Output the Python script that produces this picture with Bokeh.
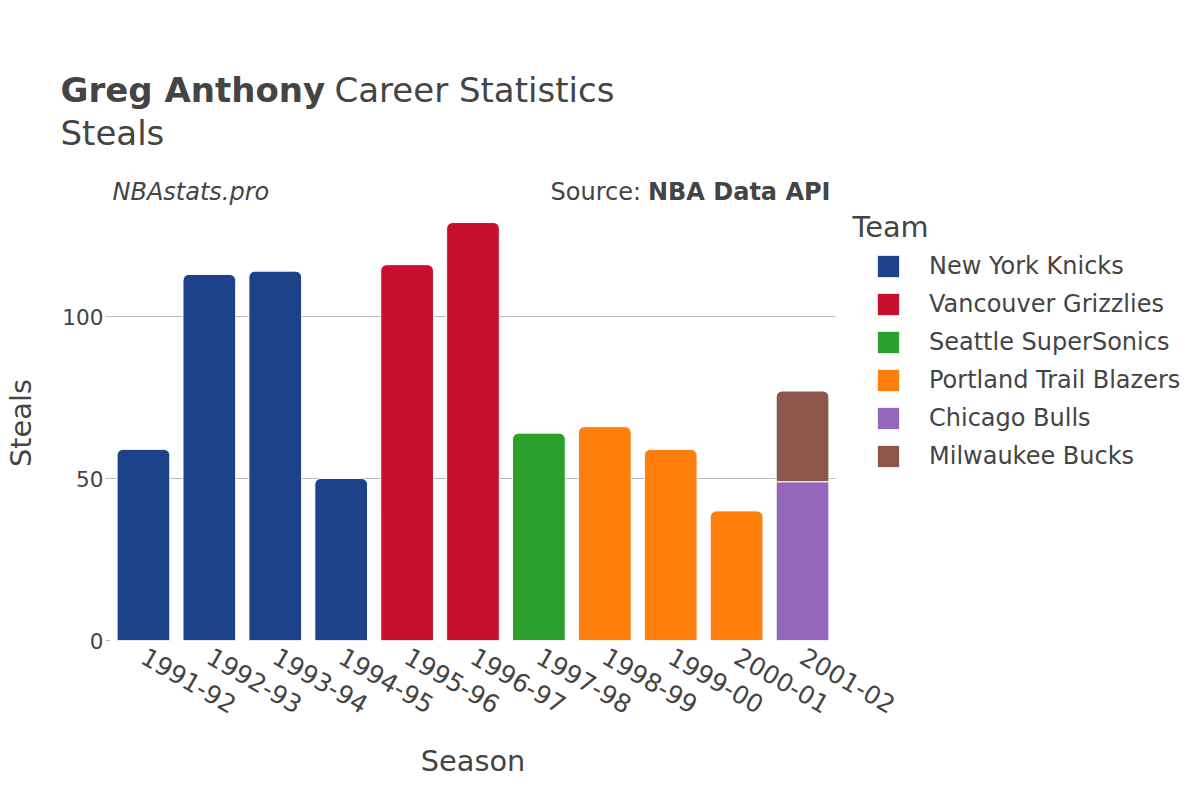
import math
from bokeh.plotting import figure
from bokeh.models import (Range1d, FixedTicker, Label, Legend, LegendItem, Grid,
                          ColumnDataSource)
from bokeh.layouts import column
from bokeh.embed import file_html
from bokeh.resources import INLINE

# ---- data ----
seasons = ["1991-92", "1992-93", "1993-94", "1994-95", "1995-96", "1996-97",
           "1997-98", "1998-99", "1999-00", "2000-01", "2001-02"]
bar_season = ["1991-92", "1992-93", "1993-94", "1994-95", "1995-96", "1996-97",
              "1997-98", "1998-99", "1999-00", "2000-01", "2001-02", "2001-02"]
bar_team = ["New York Knicks", "New York Knicks", "New York Knicks", "New York Knicks",
            "Vancouver Grizzlies", "Vancouver Grizzlies", "Seattle SuperSonics",
            "Portland Trail Blazers", "Portland Trail Blazers", "Portland Trail Blazers",
            "Chicago Bulls", "Milwaukee Bucks"]
bar_steals = [59, 113, 114, 50, 116, 129, 64, 66, 59, 40, 49, 28]
teams = ["New York Knicks", "Vancouver Grizzlies", "Seattle SuperSonics",
         "Portland Trail Blazers", "Chicago Bulls", "Milwaukee Bucks"]
team_colors = ["#1d428a", "#c8102e", "#2ca02c", "#ff7f0e", "#9467bd", "#8c564b"]
y_ticks = [0, 50, 100]
y_max = 135.8

TXT = "#444444"
FONT = "DejaVu Sans"
W = 1184
HEAD_H = 205          # header strip (titles, credits)
FOOT_H = 44           # footer strip (x axis title)
MAIN_H = 784 - HEAD_H - FOOT_H
FRAME_L = 110         # plot area left edge (px)
BAND = 65.909         # px per season band
PX_PER_UNIT = 3.24    # px per steal
ZERO_Y = 640          # page y of the zero line
FRAME_BOTTOM = ZERO_Y - HEAD_H

n = len(seasons)
x_end = (W - FRAME_L) / BAND
y_end = FRAME_BOTTOM / PX_PER_UNIT

# stacking
bottoms, tops = [], []
acc = {}
for s, v in zip(bar_season, bar_steals):
    b = acc.get(s, 0)
    bottoms.append(b)
    tops.append(b + v)
    acc[s] = b + v
is_top = [tops[i] == acc[bar_season[i]] for i in range(len(bar_season))]
pos = {s: i + 0.5 for i, s in enumerate(seasons)}


def strip(height):
    f = figure(width=W, height=height, output_backend="svg", toolbar_location=None,
               x_range=Range1d(0, W), y_range=Range1d(height, 0),
               x_axis_type=None, y_axis_type=None, min_border=0)
    f.title = None
    f.grid.visible = False
    f.outline_line_color = None
    f.border_fill_color = "white"
    f.background_fill_color = "white"
    return f


def lab(fig, x, y, text, size, style="normal", align="left"):
    fig.add_layout(Label(x=x, y=y, text=text, text_font=FONT, text_font_size=size,
                         text_font_style=style, text_color=TXT, text_align=align,
                         text_baseline="middle"))


# ---------------- header ----------------
hd = strip(HEAD_H)
lab(hd, 60, 89, "Greg Anthony", "34px", "bold")
lab(hd, 334, 89, "Career Statistics", "34px")
lab(hd, 60, 132, "Steals", "34px")
lab(hd, 112, 191, "NBAstats.pro", "24px", "italic")
lab(hd, 550, 191, "Source:", "24px")
lab(hd, 830, 191, "NBA Data API", "24px", "bold", "right")

# ---------------- main plot ----------------
p = figure(width=W, height=MAIN_H, output_backend="svg", toolbar_location=None,
           x_range=Range1d(0, x_end), y_range=Range1d(0, y_end),
           min_border_left=FRAME_L, min_border_right=0, min_border_top=0,
           min_border_bottom=MAIN_H - FRAME_BOTTOM)
p.title = None
p.outline_line_color = None
p.background_fill_color = "white"
p.border_fill_color = "white"

legend_items = []
for team, color in zip(teams, team_colors):
    idx = [i for i, t in enumerate(bar_team) if t == team]
    src = ColumnDataSource(dict(x=[pos[bar_season[i]] for i in idx],
                                bottom=[bottoms[i] for i in idx],
                                top=[tops[i] for i in idx]))
    rad = 6 if all(is_top[i] for i in idx) else 0
    r = p.vbar(x="x", bottom="bottom", top="top", width=0.8, source=src,
               fill_color=color, line_color="white", line_width=1,
               border_radius=(rad, rad, 0, 0))
    legend_items.append(LegendItem(label=team, renderers=[r]))

# grid lines (limited to the bar area)
p.xgrid.grid_line_color = None
p.ygrid.ticker = FixedTicker(ticks=[t for t in y_ticks if t != 0])
p.ygrid.grid_line_color = "#b8b8b8"
p.ygrid.grid_line_width = 1
zero = Grid(dimension=1, ticker=FixedTicker(ticks=[0]), grid_line_color="#e6e6e6",
            grid_line_width=2)
p.add_layout(zero)
if "cross_bounds" in Grid.properties():
    p.ygrid.cross_bounds = (0, n)
    zero.cross_bounds = (0, n)

# axes
p.xaxis.bounds = (0, n)
p.xaxis.ticker = FixedTicker(ticks=[pos[s] for s in seasons])
p.xaxis.major_label_overrides = {pos[s]: s for s in seasons}
p.xaxis.axis_line_color = None
p.xaxis.major_tick_line_color = None
p.xaxis.minor_tick_line_color = None
p.xaxis.major_label_orientation = -math.pi / 6
p.xaxis.major_label_text_font_size = "25px"
p.xaxis.major_label_text_color = TXT
p.xaxis.major_label_text_font = FONT
p.xaxis.major_label_standoff = 8

p.yaxis.bounds = (0, y_max)
p.yaxis.ticker = FixedTicker(ticks=y_ticks)
p.yaxis.axis_line_color = None
p.yaxis.major_tick_line_color = "#b8b8b8"
p.yaxis.major_tick_out = 5
p.yaxis.major_tick_in = 0
p.yaxis.minor_tick_line_color = None
p.yaxis.major_label_text_font_size = "21.6px"
p.yaxis.major_label_text_color = TXT
p.yaxis.major_label_text_font = FONT
p.yaxis.major_label_standoff = 2
p.yaxis.axis_label = "Steals"
p.yaxis.axis_label_text_font_size = "28.8px"
p.yaxis.axis_label_text_font_style = "normal"
p.yaxis.axis_label_text_color = TXT
p.yaxis.axis_label_text_font = FONT
p.yaxis.axis_label_standoff = 21

legend = Legend(items=legend_items, location=(764, 170), padding=0, margin=0,
                border_line_color=None, background_fill_alpha=0,
                glyph_width=28, glyph_height=28, label_height=28, spacing=10,
                label_standoff=27, label_text_font_size="24px",
                label_text_color=TXT, label_text_font=FONT)
p.add_layout(legend, "center")

# legend title inside the (wide) plot area, page pixels -> data units
p.add_layout(Label(x=(852 - FRAME_L) / BAND, y=(ZERO_Y - 226) / PX_PER_UNIT, text="Team",
                   text_font=FONT, text_font_size="28.8px", text_color=TXT,
                   text_align="left", text_baseline="middle"))

# ---------------- footer (x axis title) ----------------
ft = strip(FOOT_H)
lab(ft, FRAME_L + n * BAND / 2, 20, "Season", "28.8px", align="center")

for fig in (hd, p, ft):
    if "frame_align" in fig.properties():
        fig.frame_align = False

layout = column(hd, p, ft, spacing=0)
open("out.html", "w").write(file_html(layout, INLINE))
